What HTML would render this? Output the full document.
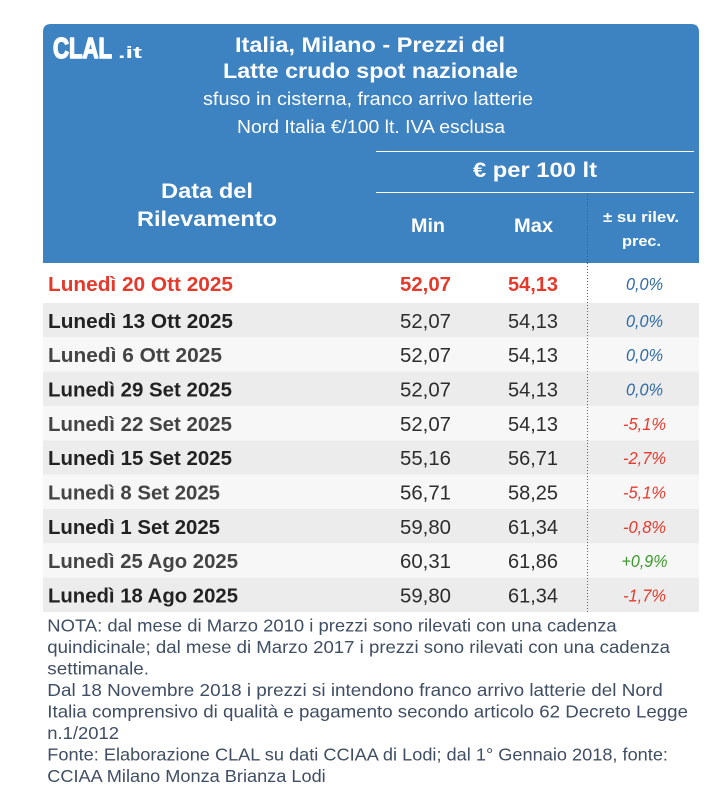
<!DOCTYPE html>
<html>
<head>
<meta charset="utf-8">
<style>
  html,body{margin:0;padding:0;background:#ffffff;}
  svg{display:block;}
  text{font-family:"Liberation Sans", Arial, sans-serif;}
</style>
</head>
<body>
<svg width="712" height="802" viewBox="0 0 712 802" xmlns="http://www.w3.org/2000/svg">
  <rect x="0" y="0" width="712" height="802" fill="#ffffff"/>

  <!-- header -->
  <path d="M43,32 Q43,24 51,24 L691,24 Q699,24 699,32 L699,263 L43,263 Z" fill="#3d82c1"/>

  <!-- logo -->
  <text x="53" y="58" font-size="29" font-weight="bold" fill="#ffffff" stroke="#ffffff" stroke-width="1.6" stroke-linejoin="round" textLength="59" lengthAdjust="spacingAndGlyphs">CLAL</text>
  <text x="118" y="58" font-size="17" font-weight="bold" fill="#ffffff" textLength="24" lengthAdjust="spacingAndGlyphs">.it</text>

  <!-- title -->
  <text x="235" y="52" font-size="21" font-weight="bold" fill="#ffffff" textLength="270" lengthAdjust="spacingAndGlyphs">Italia, Milano - Prezzi del</text>
  <text x="223" y="78" font-size="21" font-weight="bold" fill="#ffffff" textLength="295" lengthAdjust="spacingAndGlyphs">Latte crudo spot nazionale</text>
  <text x="203" y="105" font-size="18.5" fill="#ffffff" textLength="330" lengthAdjust="spacingAndGlyphs">sfuso in cisterna, franco arrivo latterie</text>
  <text x="237" y="133" font-size="18.5" fill="#ffffff" textLength="268" lengthAdjust="spacingAndGlyphs">Nord Italia €/100 lt. IVA esclusa</text>

  <!-- header lines -->
  <line x1="376" y1="151.5" x2="694" y2="151.5" stroke="#ffffff" stroke-width="1"/>
  <line x1="376" y1="192.5" x2="694" y2="192.5" stroke="#ffffff" stroke-width="1"/>

  <text x="473" y="177" font-size="21" font-weight="bold" fill="#ffffff" textLength="124" lengthAdjust="spacingAndGlyphs">€ per 100 lt</text>

  <text x="161" y="198" font-size="21.5" font-weight="bold" fill="#ffffff" textLength="92" lengthAdjust="spacingAndGlyphs">Data del</text>
  <text x="137" y="226" font-size="21.5" font-weight="bold" fill="#ffffff" textLength="140" lengthAdjust="spacingAndGlyphs">Rilevamento</text>

  <text x="411" y="232" font-size="19" font-weight="bold" fill="#ffffff" textLength="34" lengthAdjust="spacingAndGlyphs">Min</text>
  <text x="514" y="232" font-size="19" font-weight="bold" fill="#ffffff" textLength="39" lengthAdjust="spacingAndGlyphs">Max</text>
  <text x="603" y="222" font-size="15" font-weight="bold" fill="#ffffff" textLength="76" lengthAdjust="spacingAndGlyphs">± su rilev.</text>
  <text x="622" y="246" font-size="15" font-weight="bold" fill="#ffffff" textLength="39" lengthAdjust="spacingAndGlyphs">prec.</text>

  <!-- row backgrounds -->
  <rect x="43" y="263" width="656" height="40" fill="#ffffff"/>
  <rect x="43" y="303" width="656" height="34.33" fill="#ececec"/>
  <rect x="43" y="337.33" width="656" height="34.33" fill="#f7f7f7"/>
  <rect x="43" y="371.67" width="656" height="34.33" fill="#ececec"/>
  <rect x="43" y="406" width="656" height="34.33" fill="#f7f7f7"/>
  <rect x="43" y="440.33" width="656" height="34.33" fill="#ececec"/>
  <rect x="43" y="474.67" width="656" height="34.33" fill="#f7f7f7"/>
  <rect x="43" y="509" width="656" height="34.33" fill="#ececec"/>
  <rect x="43" y="543.33" width="656" height="34.33" fill="#f7f7f7"/>
  <rect x="43" y="577.67" width="656" height="34.33" fill="#ececec"/>

  <!-- dotted divider -->
  <line x1="587.5" y1="193" x2="587.5" y2="263" stroke="#2a5c93" stroke-width="1" stroke-dasharray="1 2"/>
  <line x1="587.5" y1="263" x2="587.5" y2="612" stroke="#3368ab" stroke-width="1" stroke-dasharray="1 2"/>

  <!-- row 1 -->
  <text x="48" y="291" font-size="20.5" font-weight="bold" fill="#e5392c" textLength="185" lengthAdjust="spacingAndGlyphs">Lunedì 20 Ott 2025</text>
  <text x="451" y="291" text-anchor="end" font-size="20.5" font-weight="bold" fill="#e5392c" textLength="51" lengthAdjust="spacingAndGlyphs">52,07</text>
  <text x="558" y="291" text-anchor="end" font-size="20.5" font-weight="bold" fill="#e5392c" textLength="50" lengthAdjust="spacingAndGlyphs">54,13</text>
  <text x="644.5" y="290" text-anchor="middle" font-size="17.5" font-style="italic" fill="#2f6aa6" textLength="37" lengthAdjust="spacingAndGlyphs">0,0%</text>

  <!-- row 2 -->
  <text x="48" y="328" font-size="20.5" font-weight="bold" fill="#222222" textLength="185" lengthAdjust="spacingAndGlyphs">Lunedì 13 Ott 2025</text>
  <text x="451" y="328" text-anchor="end" font-size="20.5" fill="#2d2d2d" textLength="51" lengthAdjust="spacingAndGlyphs">52,07</text>
  <text x="558" y="328" text-anchor="end" font-size="20.5" fill="#2d2d2d" textLength="50" lengthAdjust="spacingAndGlyphs">54,13</text>
  <text x="644.5" y="327" text-anchor="middle" font-size="17.5" font-style="italic" fill="#2f6aa6" textLength="37" lengthAdjust="spacingAndGlyphs">0,0%</text>

  <!-- row 3 -->
  <text x="48" y="362" font-size="20.5" font-weight="bold" fill="#444444" textLength="174" lengthAdjust="spacingAndGlyphs">Lunedì 6 Ott 2025</text>
  <text x="451" y="362" text-anchor="end" font-size="20.5" fill="#2d2d2d" textLength="51" lengthAdjust="spacingAndGlyphs">52,07</text>
  <text x="558" y="362" text-anchor="end" font-size="20.5" fill="#2d2d2d" textLength="50" lengthAdjust="spacingAndGlyphs">54,13</text>
  <text x="644.5" y="361" text-anchor="middle" font-size="17.5" font-style="italic" fill="#2f6aa6" textLength="37" lengthAdjust="spacingAndGlyphs">0,0%</text>

  <!-- row 4 -->
  <text x="48" y="396.5" font-size="20.5" font-weight="bold" fill="#222222" textLength="184" lengthAdjust="spacingAndGlyphs">Lunedì 29 Set 2025</text>
  <text x="451" y="396.5" text-anchor="end" font-size="20.5" fill="#2d2d2d" textLength="51" lengthAdjust="spacingAndGlyphs">52,07</text>
  <text x="558" y="396.5" text-anchor="end" font-size="20.5" fill="#2d2d2d" textLength="50" lengthAdjust="spacingAndGlyphs">54,13</text>
  <text x="644.5" y="395.5" text-anchor="middle" font-size="17.5" font-style="italic" fill="#2f6aa6" textLength="37" lengthAdjust="spacingAndGlyphs">0,0%</text>

  <!-- row 5 -->
  <text x="48" y="431" font-size="20.5" font-weight="bold" fill="#444444" textLength="184" lengthAdjust="spacingAndGlyphs">Lunedì 22 Set 2025</text>
  <text x="451" y="431" text-anchor="end" font-size="20.5" fill="#2d2d2d" textLength="51" lengthAdjust="spacingAndGlyphs">52,07</text>
  <text x="558" y="431" text-anchor="end" font-size="20.5" fill="#2d2d2d" textLength="50" lengthAdjust="spacingAndGlyphs">54,13</text>
  <text x="644.5" y="430" text-anchor="middle" font-size="17.5" font-style="italic" fill="#e8392c" textLength="43" lengthAdjust="spacingAndGlyphs">-5,1%</text>

  <!-- row 6 -->
  <text x="48" y="465" font-size="20.5" font-weight="bold" fill="#222222" textLength="184" lengthAdjust="spacingAndGlyphs">Lunedì 15 Set 2025</text>
  <text x="451" y="465" text-anchor="end" font-size="20.5" fill="#2d2d2d" textLength="51" lengthAdjust="spacingAndGlyphs">55,16</text>
  <text x="558" y="465" text-anchor="end" font-size="20.5" fill="#2d2d2d" textLength="50" lengthAdjust="spacingAndGlyphs">56,71</text>
  <text x="644.5" y="464" text-anchor="middle" font-size="17.5" font-style="italic" fill="#e8392c" textLength="43" lengthAdjust="spacingAndGlyphs">-2,7%</text>

  <!-- row 7 -->
  <text x="48" y="499.5" font-size="20.5" font-weight="bold" fill="#444444" textLength="172" lengthAdjust="spacingAndGlyphs">Lunedì 8 Set 2025</text>
  <text x="451" y="499.5" text-anchor="end" font-size="20.5" fill="#2d2d2d" textLength="51" lengthAdjust="spacingAndGlyphs">56,71</text>
  <text x="558" y="499.5" text-anchor="end" font-size="20.5" fill="#2d2d2d" textLength="50" lengthAdjust="spacingAndGlyphs">58,25</text>
  <text x="644.5" y="498.5" text-anchor="middle" font-size="17.5" font-style="italic" fill="#e8392c" textLength="43" lengthAdjust="spacingAndGlyphs">-5,1%</text>

  <!-- row 8 -->
  <text x="48" y="534" font-size="20.5" font-weight="bold" fill="#222222" textLength="172" lengthAdjust="spacingAndGlyphs">Lunedì 1 Set 2025</text>
  <text x="451" y="534" text-anchor="end" font-size="20.5" fill="#2d2d2d" textLength="51" lengthAdjust="spacingAndGlyphs">59,80</text>
  <text x="558" y="534" text-anchor="end" font-size="20.5" fill="#2d2d2d" textLength="50" lengthAdjust="spacingAndGlyphs">61,34</text>
  <text x="644.5" y="533" text-anchor="middle" font-size="17.5" font-style="italic" fill="#e8392c" textLength="43" lengthAdjust="spacingAndGlyphs">-0,8%</text>

  <!-- row 9 -->
  <text x="48" y="568" font-size="20.5" font-weight="bold" fill="#444444" textLength="190" lengthAdjust="spacingAndGlyphs">Lunedì 25 Ago 2025</text>
  <text x="451" y="568" text-anchor="end" font-size="20.5" fill="#2d2d2d" textLength="51" lengthAdjust="spacingAndGlyphs">60,31</text>
  <text x="558" y="568" text-anchor="end" font-size="20.5" fill="#2d2d2d" textLength="50" lengthAdjust="spacingAndGlyphs">61,86</text>
  <text x="644.5" y="567" text-anchor="middle" font-size="17.5" font-style="italic" fill="#3c9a2b" textLength="46" lengthAdjust="spacingAndGlyphs">+0,9%</text>

  <!-- row 10 -->
  <text x="48" y="602.5" font-size="20.5" font-weight="bold" fill="#222222" textLength="190" lengthAdjust="spacingAndGlyphs">Lunedì 18 Ago 2025</text>
  <text x="451" y="602.5" text-anchor="end" font-size="20.5" fill="#2d2d2d" textLength="51" lengthAdjust="spacingAndGlyphs">59,80</text>
  <text x="558" y="602.5" text-anchor="end" font-size="20.5" fill="#2d2d2d" textLength="50" lengthAdjust="spacingAndGlyphs">61,34</text>
  <text x="644.5" y="601.5" text-anchor="middle" font-size="17.5" font-style="italic" fill="#e8392c" textLength="43" lengthAdjust="spacingAndGlyphs">-1,7%</text>

  <!-- notes -->
  <g font-size="17.5" fill="#3f4e63">
    <text x="47.3" y="631.3" textLength="569.4" lengthAdjust="spacingAndGlyphs">NOTA: dal mese di Marzo 2010 i prezzi sono rilevati con una cadenza</text>
    <text x="47.3" y="652.8" textLength="622.7" lengthAdjust="spacingAndGlyphs">quindicinale; dal mese di Marzo 2017 i prezzi sono rilevati con una cadenza</text>
    <text x="47.3" y="674.4" textLength="101.7" lengthAdjust="spacingAndGlyphs">settimanale.</text>
    <text x="47.3" y="695.9" textLength="615.4" lengthAdjust="spacingAndGlyphs">Dal 18 Novembre 2018 i prezzi si intendono franco arrivo latterie del Nord</text>
    <text x="47.3" y="717.5" textLength="640.7" lengthAdjust="spacingAndGlyphs">Italia comprensivo di qualità e pagamento secondo articolo 62 Decreto Legge</text>
    <text x="47.3" y="739" textLength="71.7" lengthAdjust="spacingAndGlyphs">n.1/2012</text>
    <text x="47.3" y="760.5" textLength="620.7" lengthAdjust="spacingAndGlyphs">Fonte: Elaborazione CLAL su dati CCIAA di Lodi; dal 1° Gennaio 2018, fonte:</text>
    <text x="47.3" y="782" textLength="278.4" lengthAdjust="spacingAndGlyphs">CCIAA Milano Monza Brianza Lodi</text>
  </g>
</svg>
</body>
</html>
